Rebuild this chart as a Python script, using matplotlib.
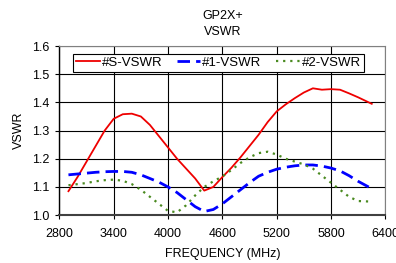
import matplotlib
matplotlib.use("Agg")
import matplotlib.pyplot as plt

plt.rcParams["font.family"] = ["Liberation Sans", "DejaVu Sans"]

freq = [2900, 3000, 3100, 3200, 3300, 3400, 3500, 3600, 3700, 3800, 3900,
        4000, 4100, 4200, 4300, 4400, 4500, 4600, 4700, 4800, 4900, 5000,
        5100, 5200, 5300, 5400, 5500, 5600, 5700, 5800, 5900, 6000, 6100,
        6250]

s_vswr = [1.085, 1.135, 1.19, 1.245, 1.30, 1.342, 1.358, 1.36, 1.35, 1.32,
          1.28, 1.24, 1.20, 1.165, 1.13, 1.087, 1.10, 1.135, 1.168, 1.205,
          1.245, 1.285, 1.33, 1.368, 1.393, 1.415, 1.435, 1.45, 1.445, 1.447,
          1.445, 1.432, 1.418, 1.395]

vswr_1 = [1.143, 1.146, 1.149, 1.152, 1.154, 1.155, 1.155, 1.152, 1.143,
          1.13, 1.117, 1.10, 1.08, 1.055, 1.03, 1.013, 1.02, 1.04, 1.065,
          1.09, 1.115, 1.138, 1.152, 1.163, 1.17, 1.175, 1.178, 1.178,
          1.174, 1.167, 1.157, 1.14, 1.12, 1.094]

vswr_2 = [1.106, 1.11, 1.114, 1.12, 1.124, 1.126, 1.122, 1.11, 1.09, 1.065,
          1.04, 1.015, 1.01, 1.035, 1.07, 1.10, 1.12, 1.137, 1.16, 1.185,
          1.205, 1.22, 1.225, 1.215, 1.20, 1.19, 1.18, 1.165, 1.14, 1.115,
          1.09, 1.065, 1.05, 1.048]

fig = plt.figure(figsize=(3.96, 2.63), dpi=100)
ax = fig.add_axes([0.15, 0.182, 0.823, 0.643])

ax.plot(freq, s_vswr, color="#ee0000", lw=1.3, label="#S-VSWR")
ax.plot(freq, vswr_1, color="#0000ff", lw=2.0, dashes=(4.5, 2.2), label="#1-VSWR")
ax.plot(freq, vswr_2, color="#4a8a20", lw=1.6, dashes=(1, 2.2), label="#2-VSWR")

ax.set_xlim(2800, 6400)
ax.set_ylim(1.0, 1.6)
ax.set_xticks(range(2800, 6401, 600))
ax.set_yticks([1.0, 1.1, 1.2, 1.3, 1.4, 1.5, 1.6])
ax.set_yticklabels(["1.0", "1.1", "1.2", "1.3", "1.4", "1.5", "1.6"])
ax.tick_params(labelsize=9, length=3, width=0.8, direction="out")
ax.tick_params(axis="x", pad=6)
ax.tick_params(axis="y", pad=4)
ax.grid(color="black", lw=0.8)
ax.set_axisbelow(True)

for side in ["top", "right"]:
    ax.spines[side].set_color("#808080")
ax.spines["bottom"].set_color("#404040")
ax.spines["bottom"].set_linewidth(1.5)
ax.spines["left"].set_linewidth(1.0)

ax.set_xlabel("FREQUENCY (MHz)", fontsize=9, labelpad=6)
ax.set_ylabel("VSWR", fontsize=9, labelpad=5)
ax.set_title("GP2X+\nVSWR", fontsize=9, pad=8, linespacing=1.4)

leg = ax.legend(loc="upper center", ncol=3, fontsize=9.5, frameon=True,
                fancybox=False, framealpha=1, edgecolor="black",
                borderpad=0.2, handlelength=1.8, columnspacing=1.1,
                handletextpad=0.15, borderaxespad=0.3,
                bbox_to_anchor=(0.488, 0.975))
leg.get_frame().set_linewidth(0.8)

fig.savefig("out.png", dpi=100)
